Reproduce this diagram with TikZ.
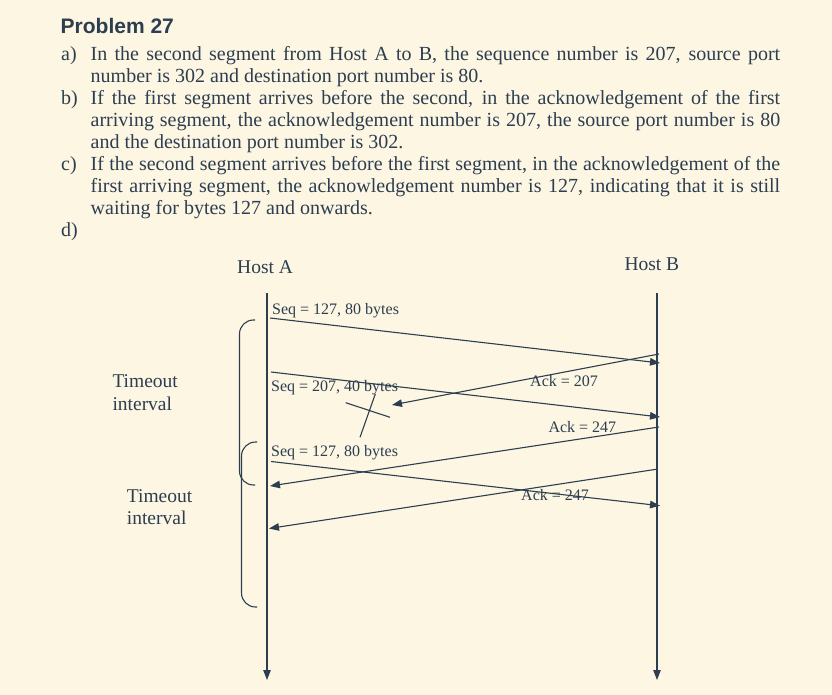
\documentclass[tikz,border=0pt]{standalone}
\usepackage{fontspec}
\setmainfont{Liberation Serif}
\newfontfamily\headfont{Liberation Sans}
\usetikzlibrary{arrows.meta}
\definecolor{bg}{RGB}{253,246,227}
\definecolor{ink}{RGB}{44,62,80}
\begin{document}
\begin{tikzpicture}[x=1pt,y=-1pt,
  ln/.style={draw=ink, line width=1.1pt},
  msg/.style={ln, -{Triangle[length=10pt,width=7.5pt]}},
  para/.style={font=\fontsize{20}{22}\selectfont, text=ink, inner sep=0pt, anchor=base west},
  hostlbl/.style={font=\fontsize{19.5}{23}\selectfont, text=ink, inner sep=0pt, anchor=base west},
  seglbl/.style={font=\fontsize{16}{19}\selectfont, text=ink, inner sep=0pt, anchor=base west},
  bracket/.style={ln, rounded corners=14pt}]
\fill[bg] (0,0) rectangle (832,695);
\useasboundingbox (0,0) rectangle (832,695);

% ---- text block ----
\node[para, font=\headfont\bfseries\fontsize{21}{24}\selectfont] (title) at (60.5,34) {Problem 27};
\node[para] (la) at (61,60.7) {a)};
\node[para] (a1) at (90.5,60.7) {\makebox[689.5pt][s]{In the second segment from Host A to B, the sequence number is 207, source port}};
\node[para] (a2) at (90.5,82.7) {number is 302 and destination port number is 80.};
\node[para] (lb) at (61,104.7) {b)};
\node[para] (b1) at (90.5,104.7) {\makebox[689.5pt][s]{If the first segment arrives before the second, in the acknowledgement of the first}};
\node[para] (b2) at (90.5,126.7) {\makebox[689.5pt][s]{arriving segment, the acknowledgement number is 207, the source port number is 80}};
\node[para] (b3) at (90.5,148.7) {and the destination port number is 302.};
\node[para] (lc) at (61,170.7) {c)};
\node[para] (c1) at (90.5,170.7) {\makebox[689.5pt][s]{If the second segment arrives before the first segment, in the acknowledgement of the}};
\node[para] (c2) at (90.5,192.7) {\makebox[689.5pt][s]{first arriving segment, the acknowledgement number is 127, indicating that it is still}};
\node[para] (c3) at (90.5,214.7) {waiting for bytes 127 and onwards.};
\node[para] (ld) at (61,236.7) {d)};

% ---- hosts ----
\node[hostlbl] (hostA) at (237,273.3) {Host A};
\node[hostlbl] (hostB) at (624.3,270) {Host B};
\coordinate (Atop) at (267,293);
\coordinate (Abot) at (267,680);
\coordinate (Btop) at (657,293);
\coordinate (Bbot) at (657,680);
\draw[msg] (Atop) -- (Abot);
\draw[msg] (Btop) -- (Bbot);

% ---- timeout labels ----
\node[hostlbl] (to1a) at (112.3,387.3) {Timeout};
\node[hostlbl] (to1b) at (112.3,410) {interval};
\node[hostlbl] (to2a) at (126.7,502.7) {Timeout};
\node[hostlbl] (to2b) at (126.7,524) {interval};

% ---- brackets ----
\draw[bracket] (255,320) -- (239.5,320) -- (239.5,485) -- (255,485);
\draw[bracket] (257,442) -- (241.5,442) -- (241.5,607) -- (257,607);

% ---- message endpoints ----
\coordinate (m1s) at (270,318);   \coordinate (m1e) at (660,363);
\coordinate (m2s) at (271,372);   \coordinate (m2e) at (660,417);
\coordinate (k1s) at (659,354);   \coordinate (k1e) at (392,405);
\coordinate (k2s) at (659,427);   \coordinate (k2e) at (270,486);
\coordinate (m3s) at (271,461.5); \coordinate (m3e) at (660,505.7);
\coordinate (k3s) at (658,469);   \coordinate (k3e) at (269,528.5);

\draw[msg] (m1s) -- (m1e);
\draw[msg] (m2s) -- (m2e);
\draw[msg] (k1s) -- (k1e);
\draw[msg] (k2s) -- (k2e);
\draw[msg] (m3s) -- (m3e);
\draw[msg] (k3s) -- (k3e);

% ---- lost mark ----
\coordinate (x1a) at (345.7,402.7); \coordinate (x1b) at (390,417.3);
\coordinate (x2a) at (375.3,394);   \coordinate (x2b) at (360,437.3);
\draw[ln] (x1a) -- (x1b);
\draw[ln] (x2a) -- (x2b);

% ---- message labels ----
\node[seglbl] (l1) at (272,314) {Seq = 127, 80 bytes};
\node[seglbl] (l2) at (271,391.7) {Seq = 207, 40 bytes};
\node[seglbl] (l3) at (271,456.7) {Seq = 127, 80 bytes};
\node[seglbl] (l4) at (530,386.7) {Ack = 207};
\node[seglbl] (l5) at (548.3,432.7) {Ack = 247};
\node[seglbl] (l6) at (521,500.7) {Ack = 247};
\end{tikzpicture}
\end{document}
